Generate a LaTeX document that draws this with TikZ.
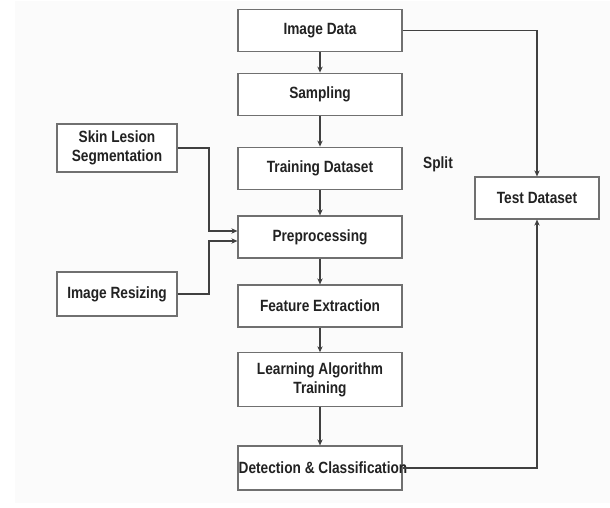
\documentclass[tikz,border=0pt]{standalone}
\usepackage{fontspec}
\setmainfont{Liberation Sans}[FakeStretch=0.84]
\usetikzlibrary{arrows.meta,calc}
\definecolor{panel}{HTML}{FBFBFB}
\definecolor{boxline}{HTML}{707070}
\definecolor{wire}{HTML}{404040}
\definecolor{ink}{HTML}{222222}
\tikzset{
  stepbox/.style={draw=boxline, line width=0.9pt, fill=white, rectangle,
    minimum width=123pt, minimum height=32pt, inner sep=0pt},
  sidebox/.style={draw=boxline, line width=0.9pt, fill=white, rectangle,
    minimum width=90pt, inner sep=0pt},
  lbl/.style={font=\bfseries\fontsize{12.2}{14.3}\selectfont, text=ink, align=center, inner sep=0pt},
  wire/.style={draw=wire, line width=0.8pt, -{Stealth[length=4.5pt,width=4pt]}}
}
\begin{document}
\begin{tikzpicture}[x=0.75pt,y=-0.75pt]
  \useasboundingbox (0,0) rectangle (610,507);
  \fill[white] (0,0) rectangle (610,507);
  \fill[panel] (15,1) rectangle (610,503);

  % main pipeline
  \node[stepbox, minimum height=32pt] (img) at (320,30.5) {};
  \node[lbl] at (img) {Image Data};
  \node[stepbox] (samp) at (320,94.5) {};
  \node[lbl] at (samp) {Sampling};
  \node[stepbox] (train) at (320,168.5) {};
  \node[lbl] at (train) {Training Dataset};
  \node[stepbox, minimum height=31.5pt] (pre) at (320,237) {};
  \node[lbl] at (pre) {Preprocessing};
  \node[stepbox, minimum height=31.5pt] (feat) at (320,306) {};
  \node[lbl] at (feat) {Feature Extraction};
  \node[stepbox, minimum height=40pt] (learn) at (320,379.5) {};
  \node[lbl] at (learn) {Learning Algorithm\\Training};
  \node[stepbox, minimum height=33pt] (det) at (320,468) {};
  \node[lbl] at (323,468) {Detection \& Classification};

  % side inputs
  \node[sidebox, minimum height=36pt] (skin) at (117,148) {};
  \node[lbl] at (skin) {Skin Lesion\\Segmentation};
  \node[sidebox, minimum height=33pt] (resize) at (117,294) {};
  \node[lbl] at (resize) {Image Resizing};

  % test branch
  \node[sidebox, minimum width=93pt, minimum height=31.5pt] (test) at (537,198) {};
  \node[lbl] at (test) {Test Dataset};
  \node[lbl] (split) at (438,164) {Split};

  % vertical flow
  \draw[wire] (img) -- (samp);
  \draw[wire] (samp) -- (train);
  \draw[wire] (train) -- (pre);
  \draw[wire] (pre) -- (feat);
  \draw[wire] (feat) -- (learn);
  \draw[wire] (learn) -- (det);

  % side inputs into preprocessing
  \coordinate (preA) at ($(pre.west)+(0,-6)$);
  \coordinate (preB) at ($(pre.west)+(0,4)$);
  \coordinate (joinX) at (209,0);
  \draw[wire] (skin.east) -- (skin.east -| joinX) -- (preA -| joinX) -- (preA);
  \draw[wire] (resize.east) -- (resize.east -| joinX) -- (preB -| joinX) -- (preB);

  % split to test set
  \draw[wire] (img.east) -| (test.north);
  \draw[wire] (det.east) -| (test.south);
\end{tikzpicture}
\end{document}
